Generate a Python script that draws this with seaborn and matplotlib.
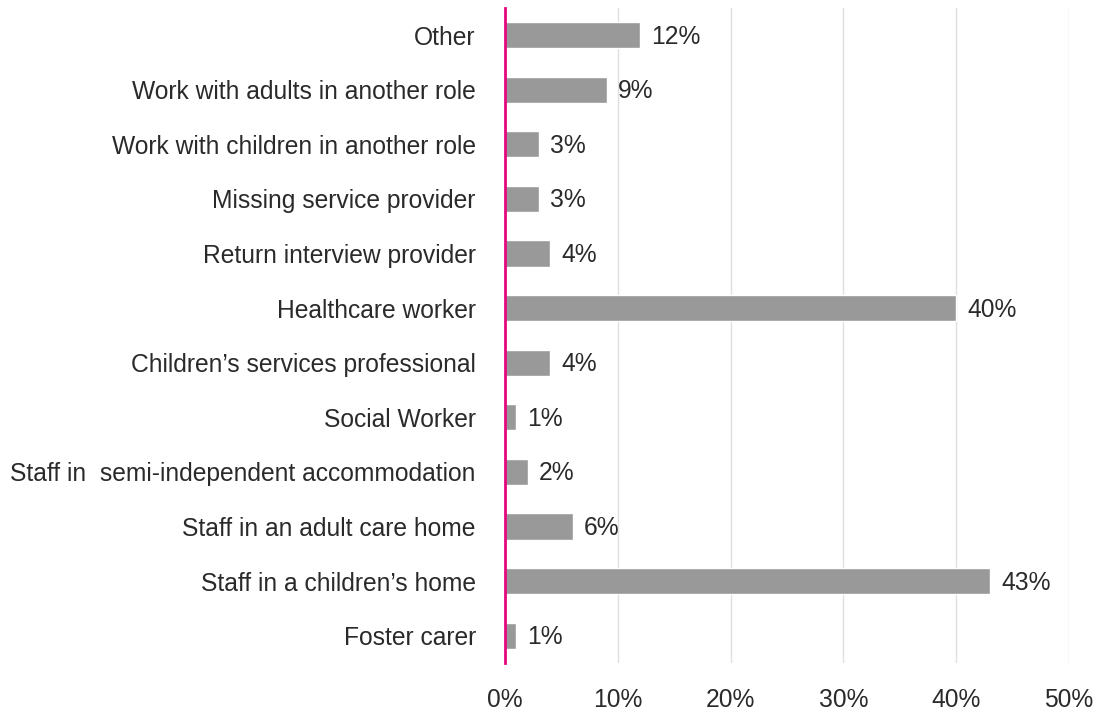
import matplotlib
matplotlib.use("Agg")
import matplotlib.pyplot as plt
import seaborn as sns
import pandas as pd
from matplotlib.ticker import FuncFormatter

roles = [
    "Other",
    "Work with adults in another role",
    "Work with children in another role",
    "Missing service provider",
    "Return interview provider",
    "Healthcare worker",
    "Children\u2019s services professional",
    "Social Worker",
    "Staff in  semi-independent accommodation",
    "Staff in an adult care home",
    "Staff in a children\u2019s home",
    "Foster carer",
]
shares = [12, 9, 3, 3, 4, 40, 4, 1, 2, 6, 43, 1]
x_ticks = [0, 10, 20, 30, 40, 50]

df = pd.DataFrame({"role": roles, "share": shares})

sns.set_theme(style="white")
plt.rcParams["font.family"] = ["Liberation Sans", "DejaVu Sans"]

TEXT = "#2a2a2a"
SIZE = 17.7

fig = plt.figure(figsize=(11.01, 7.17), dpi=100)
ax = fig.add_axes([0.4587, 0.0753, 0.971 - 0.4587, 0.989 - 0.0753])

sns.barplot(data=df, x="share", y="role", orient="h", color="#999999",
            saturation=1, width=0.48, ax=ax, zorder=3)

ax.set_xlim(0, 50)
ax.set_xticks(x_ticks)
ax.xaxis.set_major_formatter(FuncFormatter(lambda v, _: f"{v:.0f}%"))
ax.grid(axis="x", color="#e0e0e0", linewidth=1, zorder=0)
ax.grid(axis="y", visible=False)

for side in ["top", "right", "bottom"]:
    ax.spines[side].set_visible(False)
ax.spines["left"].set_color("#e5067f")
ax.spines["left"].set_linewidth(2)
ax.spines["left"].set_zorder(5)

ax.set_xlabel("")
ax.set_ylabel("")
ax.tick_params(axis="both", length=0, labelsize=SIZE, colors=TEXT)
ax.tick_params(axis="y", pad=21)
ax.tick_params(axis="x", pad=18)

for i, v in enumerate(shares):
    ax.annotate(f"{v}%", xy=(v, i), xytext=(8, -1), textcoords="offset points",
                va="center", ha="left", fontsize=SIZE, color=TEXT)

fig.savefig("out.png", dpi=100, facecolor="white")
